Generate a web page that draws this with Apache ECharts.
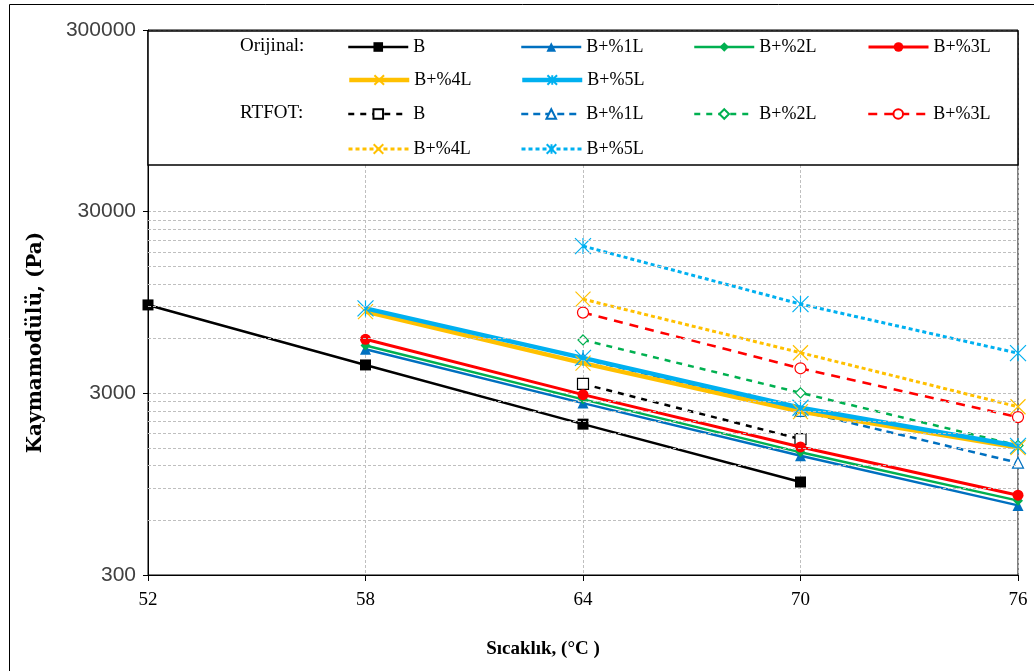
<!DOCTYPE html>
<html>
<head>
<meta charset="utf-8">
<script src="https://cdn.jsdelivr.net/npm/echarts@6/dist/echarts.min.js"></script>
<style>html,body{margin:0;padding:0;background:#fff}#c{width:1034px;height:671px}</style>
</head>
<body>
<div id="c"></div>
<script>
// Temperatures (°C)
const temps = [52, 58, 64, 70, 76];
const xTicks = [52, 58, 64, 70, 76];
const yTicks = [300, 3000, 30000, 300000];

// Orijinal (Pa)
const origB    = [9200, 4300, 2030, 975, null];
const origL1   = [null, 5250, 2650, 1360, 725];
const origL2   = [null, 5500, 2780, 1420, 770];
const origL3   = [null, 5950, 2950, 1520, 825];
const origL4   = [null, 8450, 4400, 2380, 1510];
const origL5   = [null, 8800, 4700, 2500, 1540];

// RTFOT (Pa)
const rtfotB   = [null, null, 3380, 1680, null];
const rtfotL1  = [null, null, 4650, 2400, 1245];
const rtfotL2  = [null, null, 5900, 3020, 1550];
const rtfotL3  = [null, null, 8350, 4120, 2220];
const rtfotL4  = [null, null, 9900, 5020, 2530];
const rtfotL5  = [null, null, 19400, 9300, 4990];

const labels = ['B', 'B+%1L', 'B+%2L', 'B+%3L', 'B+%4L', 'B+%5L'];

const colors = ['#000000', '#0070C0', '#00B050', '#FF0000', '#FFC000', '#00B0F0'];
const X_PATH = 'path://M0,0 L10,10 M10,0 L0,10';
const AST_PATH = 'path://M5,0 L5,10 M0,0 L10,10 M10,0 L0,10';

function pairs(arr) {
  const out = [];
  arr.forEach((v, i) => { if (v != null) out.push([temps[i], v]); });
  return out;
}

const origSets = [origB, origL1, origL2, origL3, origL4, origL5];
const rtfotSets = [rtfotB, rtfotL1, rtfotL2, rtfotL3, rtfotL4, rtfotL5];
const origSymbols = ['rect', 'triangle', 'diamond', 'circle', X_PATH, AST_PATH];
const origSizes = [11, 11, 10, 11, 15, 16];
const origWidths = [2.5, 2.5, 2.5, 3, 4.5, 4.5];
const rtfotDash = [[6, 6], [7, 5], [6, 6], [9, 7], [4, 3], [4, 3]];
const rtfotWidths = [2.5, 2.5, 2.5, 2.5, 3, 3];

const series = [];
// horizontal grid at multiples of 300 within each decade
const gridVals = [];
[300, 3000, 30000].forEach(b => { for (let k = 2; k <= 9; k++) gridVals.push(b * k); });
series.push({
  type: 'line', name: 'grid', data: [], silent: true, z: 1,
  markLine: {
    silent: true, symbol: 'none', animation: false,
    label: { show: false },
    lineStyle: { color: '#BFBFBF', type: [3, 2], width: 1 },
    data: gridVals.map(v => ({ yAxis: v }))
  }
});

labels.forEach((lab, i) => {
  const c = colors[i];
  const isPath = i >= 4;
  series.push({
    type: 'line', name: 'O|' + lab, data: pairs(origSets[i]), z: 3,
    symbol: origSymbols[i], symbolSize: origSizes[i],
    showSymbol: true,
    lineStyle: { color: c, width: origWidths[i] },
    itemStyle: isPath ? { color: c, borderColor: c, borderWidth: 1.2 } : { color: c, borderWidth: 0 },
    emphasis: { disabled: true }
  });
});
labels.forEach((lab, i) => {
  const c = colors[i];
  const isPath = i >= 4;
  series.push({
    type: 'line', name: 'R|' + lab, data: pairs(rtfotSets[i]), z: 2,
    symbol: origSymbols[i], symbolSize: origSizes[i],
    showSymbol: true,
    lineStyle: { color: c, width: rtfotWidths[i], type: rtfotDash[i] },
    itemStyle: isPath ? { color: c, borderColor: c, borderWidth: 1.2 } : { color: '#ffffff', borderColor: c, borderWidth: 1.2 },
    emphasis: { disabled: true }
  });
});

// legend layout: 4 columns, 4 rows (Orijinal 2 rows, RTFOT 2 rows)
const colLeft = [347, 520, 693, 867];
const rowTop = [38, 71, 105, 140];
const legends = [];
['O', 'R'].forEach((p, g) => {
  labels.forEach((lab, i) => {
    const row = g * 2 + (i >= 4 ? 1 : 0);
    const col = i % 4;
    legends.push({
      data: [p + '|' + lab], left: colLeft[col], top: rowTop[row], orient: 'horizontal',
      itemWidth: 60, itemHeight: 12, itemGap: 0, padding: 0,
      selectedMode: false, z: 10,
      lineStyle: { width: 'inherit' },
      textStyle: { fontFamily: 'Liberation Serif', fontSize: 18, color: '#000' },
      formatter: n => n.split('|')[1]
    });
  });
});

const option = {
  animation: false,
  backgroundColor: '#ffffff',
  grid: { left: 148, right: 16, top: 30, bottom: 96, show: true, borderColor: '#000', borderWidth: 1, backgroundColor: 'transparent' },
  legend: legends,
  xAxis: {
    type: 'value', min: xTicks[0], max: xTicks[xTicks.length - 1], interval: 6,
    name: 'Sıcaklık, (°C )', nameLocation: 'middle', nameGap: 65,
    nameTextStyle: { fontFamily: 'Liberation Serif', fontSize: 19, fontWeight: 'bold', color: '#000', padding: [0, 80, 0, 0] },
    axisLine: { show: true, lineStyle: { color: '#000', width: 1 } },
    axisTick: { show: true, inside: false, length: 6, lineStyle: { color: '#000' } },
    axisLabel: { fontFamily: 'Liberation Serif', fontSize: 19, color: '#000', margin: 16 },
    splitLine: { show: true, lineStyle: { color: '#BFBFBF', type: [3, 2], width: 1 } }
  },
  yAxis: {
    type: 'log', logBase: 10, min: yTicks[0], max: yTicks[yTicks.length - 1], interval: 1,
    name: 'Kaymamodülü, (Pa)', nameLocation: 'middle', nameGap: 102, nameRotate: 90,
    nameTextStyle: { fontFamily: 'DejaVu Serif', fontSize: 20, fontWeight: 'bold', color: '#000', padding: [0, 80, 0, 0] },
    axisLine: { show: true, lineStyle: { color: '#000', width: 1 } },
    axisTick: { show: true, inside: false, length: 5, lineStyle: { color: '#000' } },
    axisLabel: { fontFamily: 'Liberation Sans', fontSize: 21, color: '#404040', margin: 12, formatter: v => String(Number(v.toPrecision(2))) },
    splitLine: { show: true, lineStyle: { color: '#BFBFBF', type: [3, 2], width: 1 } },
    minorTick: { show: false }, minorSplitLine: { show: false }
  },
  graphic: [
    { type: 'rect', z: 8, shape: { x: 148, y: 31, width: 870, height: 134 }, style: { fill: '#ffffff', stroke: '#000', lineWidth: 1.5 } },
    { type: 'text', z: 12, x: 240, y: 46, style: { text: 'Orijinal:', fontFamily: 'Liberation Serif', fontSize: 19, fill: '#000', verticalAlign: 'middle' } },
    { type: 'text', z: 12, x: 240, y: 113, style: { text: 'RTFOT:', fontFamily: 'Liberation Serif', fontSize: 19, fill: '#000', verticalAlign: 'middle' } },
    { type: 'rect', z: 12, shape: { x: 9.5, y: 4.5, width: 1100, height: 800 }, style: { fill: 'none', stroke: '#000', lineWidth: 1 } }
  ],
  series: series
};

const chart = echarts.init(document.getElementById('c'), null, { renderer: 'canvas' });
chart.setOption(option);
</script>
</body>
</html>
